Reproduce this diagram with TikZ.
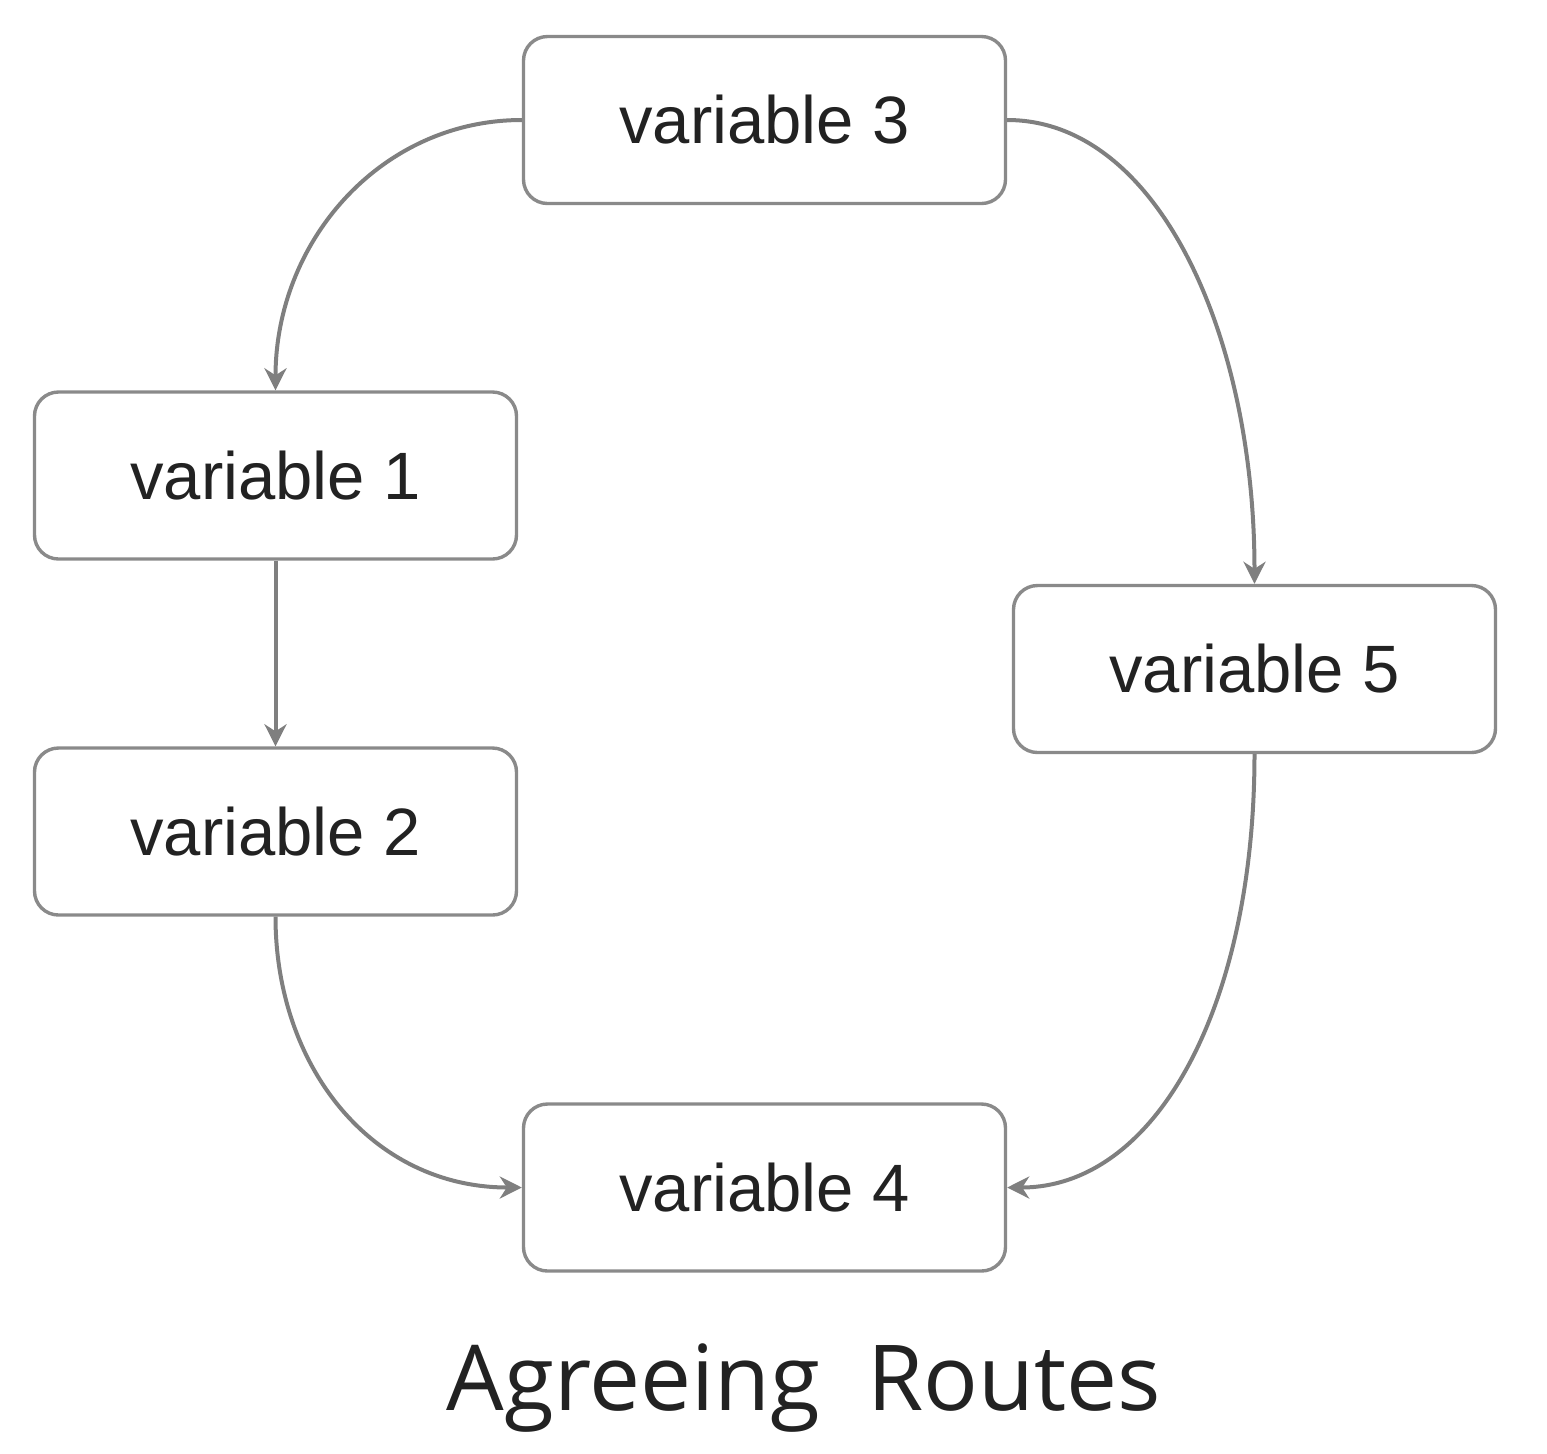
\documentclass[tikz,border=0pt]{standalone}
\usepackage{fontspec}
\setmainfont{Liberation Sans}
\newfontfamily\titlefont{Open Sans}
\usetikzlibrary{arrows.meta}
\definecolor{boxgray}{HTML}{8A8A8A}
\definecolor{linegray}{HTML}{7F7F7F}
\definecolor{textdark}{HTML}{222222}
\begin{document}
\begin{tikzpicture}[x=0.5pt,y=-0.5pt,
  varbox/.style={draw=boxgray, line width=1.7pt, rounded corners=12pt,
    minimum width=241pt, minimum height=83.5pt, inner sep=0pt,
    text=textdark, font=\fontsize{33.5}{40}\selectfont},
  conn/.style={draw=linegray, line width=2pt,
    -{Stealth[length=11pt,width=11pt,inset=3.5pt]}}]
\useasboundingbox (0,0) rectangle (1547,1453);
\node[varbox] (v3) at (764.5,120) {variable 3};
\node[varbox] (v1) at (275.5,475.5) {variable 1};
\node[varbox] (v2) at (275.5,831.5) {variable 2};
\node[varbox] (v5) at (1254.5,669) {variable 5};
\node[varbox] (v4) at (764.5,1187.5) {variable 4};
\node[text=textdark, font=\titlefont\fontsize{45.5}{52}\selectfont, anchor=base] (title) at (804,1410) {Agreeing\ \ Routes};
\draw[conn] (v3.west) .. controls +(-140,0) and +(0,-150) .. (v1.north);
\draw[conn] (v1.south) -- (v2.north);
\draw[conn] (v2.south) .. controls +(0,150) and +(-150,0) .. (v4.west);
\draw[conn] (v3.east) .. controls +(150,0) and +(0,-250) .. (v5.north);
\draw[conn] (v5.south) .. controls +(0,250) and +(150,0) .. (v4.east);
\end{tikzpicture}
\end{document}
